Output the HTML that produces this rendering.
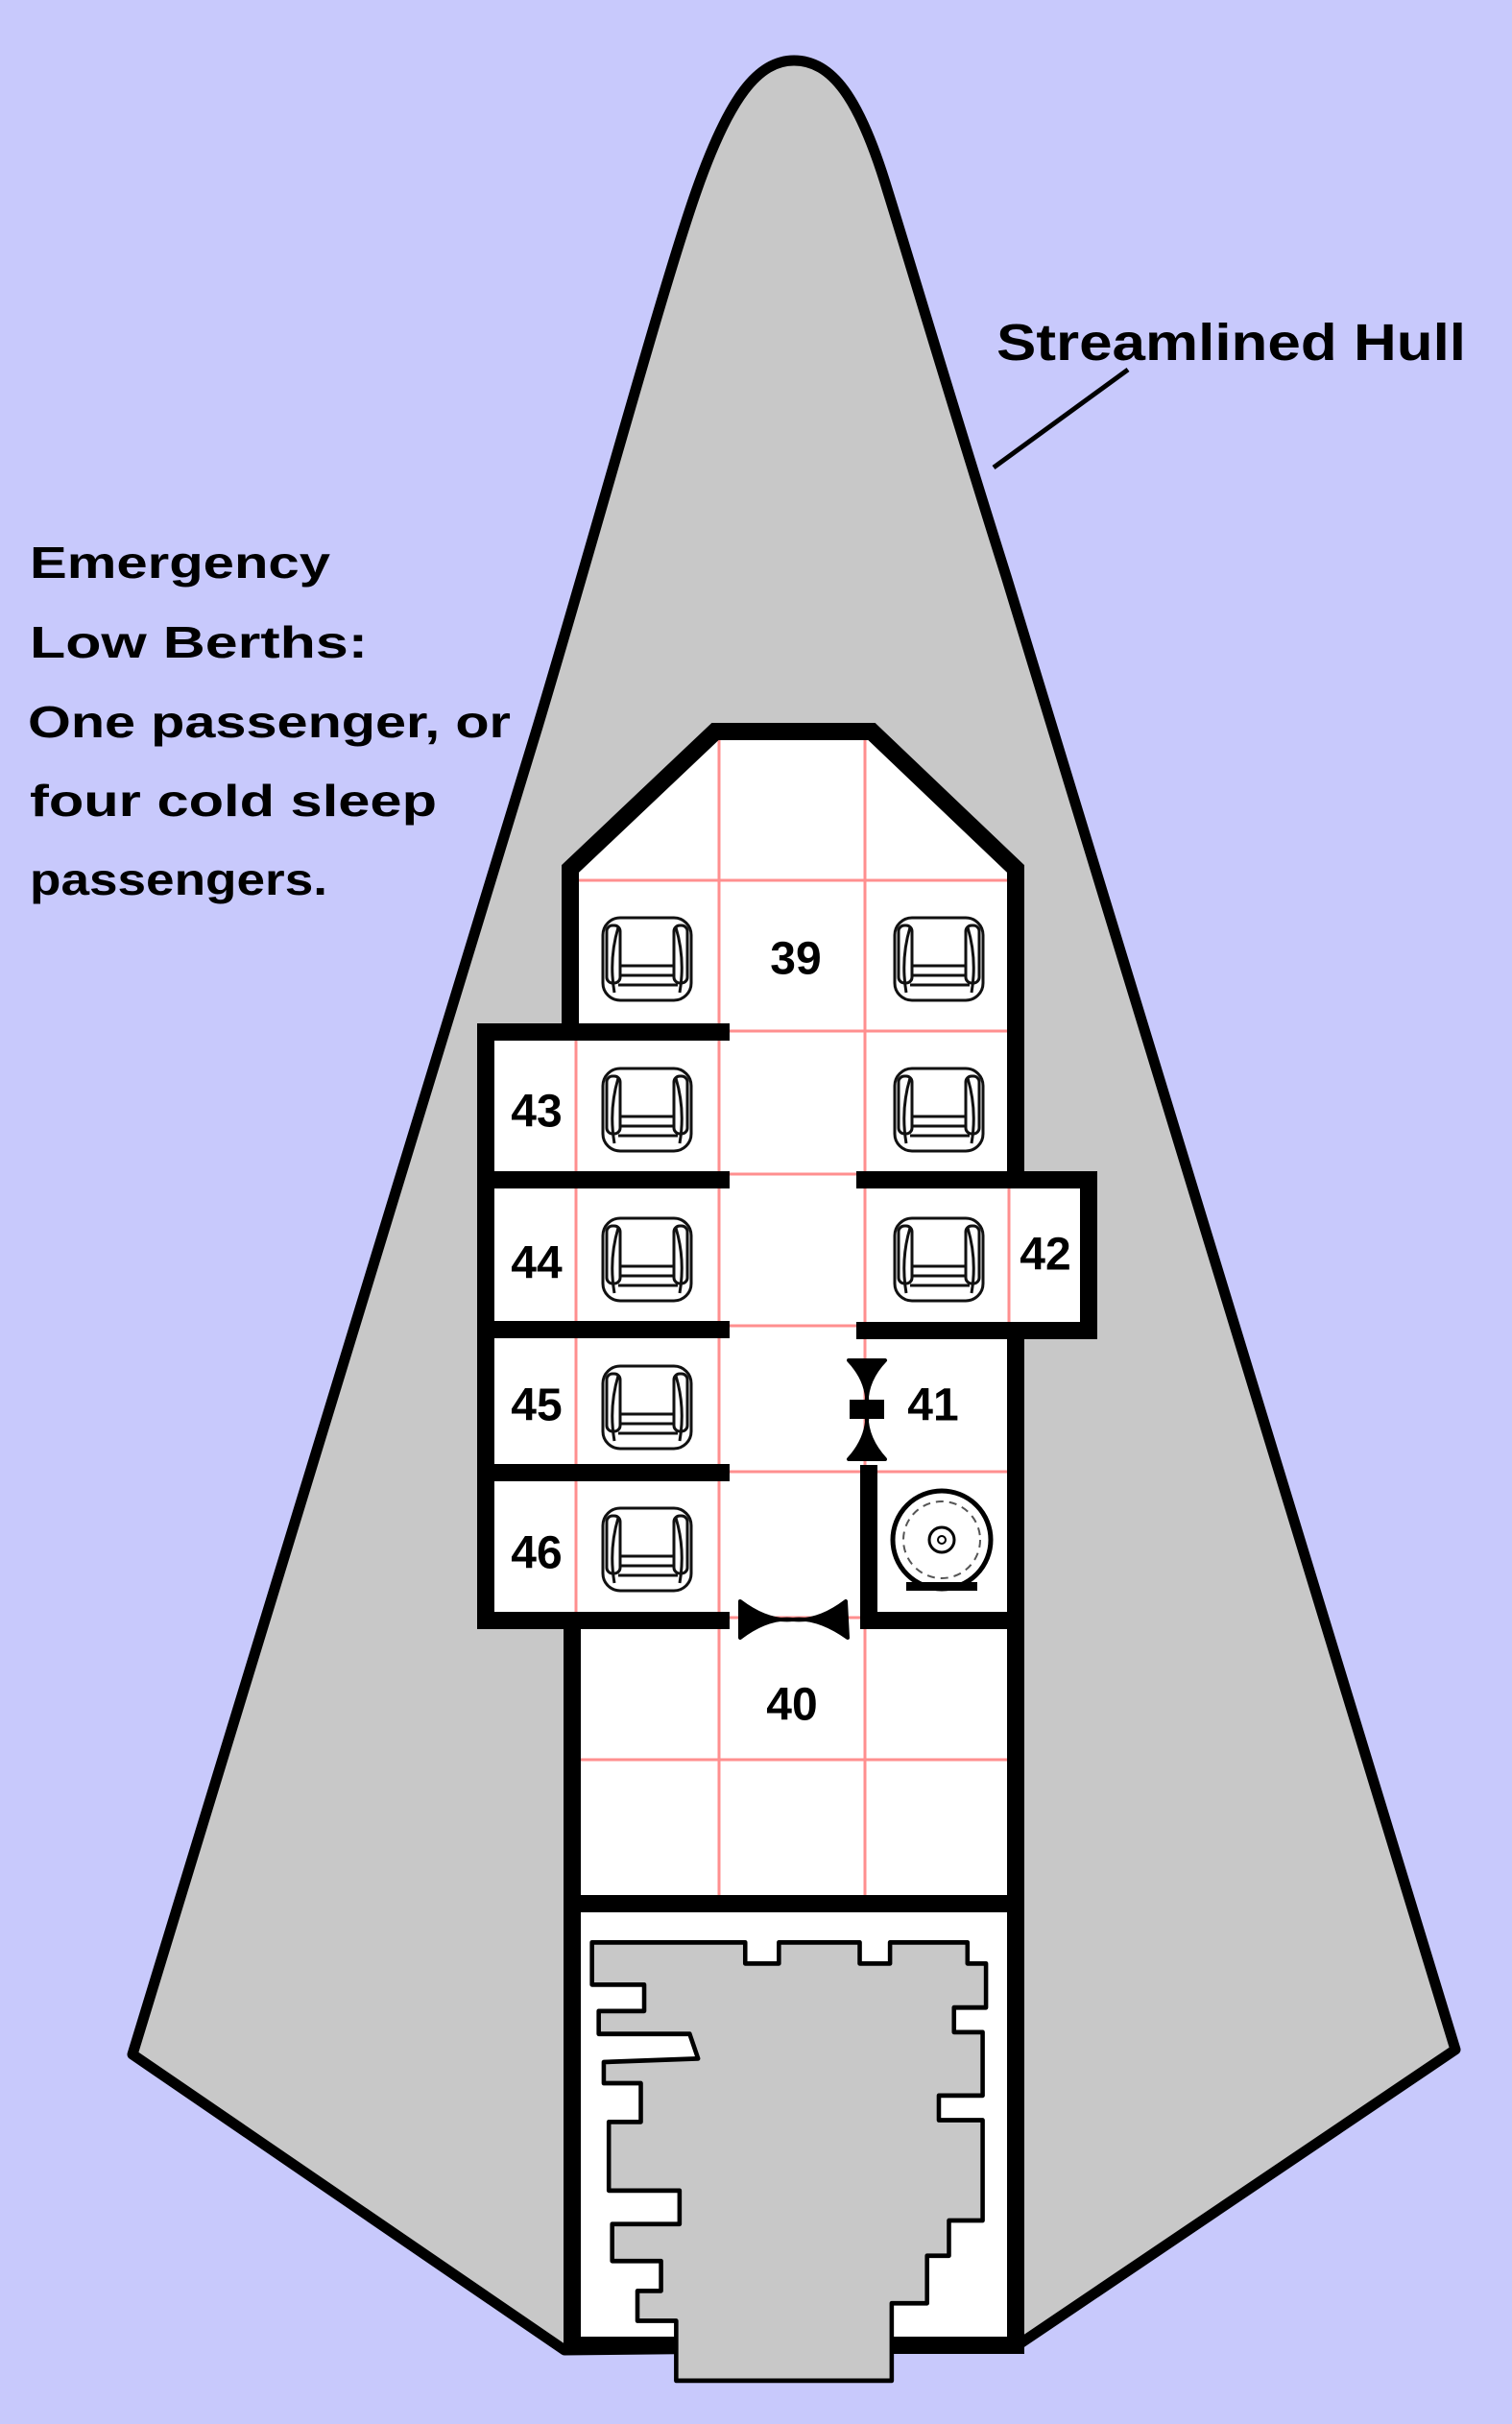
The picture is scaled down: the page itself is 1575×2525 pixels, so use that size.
<!DOCTYPE html>
<html><head><meta charset="utf-8"><style>
html,body{margin:0;padding:0;background:#c8c9fc;}
svg{display:block}
text{font-family:"Liberation Sans",sans-serif;fill:#000}
</style></head><body>
<svg width="1575" height="2525" viewBox="0 0 1575 2525" xmlns="http://www.w3.org/2000/svg">
<defs>
<g id="seat" fill="none" stroke="#111" stroke-width="3">
  <rect x="2" y="2" width="92" height="86" rx="18"/>
  <path d="M18 12 Q8 45 14 80"/>
  <path d="M78 12 Q88 45 82 80"/>
  <rect x="6" y="10" width="14" height="60" rx="6"/>
  <rect x="76" y="10" width="14" height="60" rx="6"/>
  <path d="M20 52 L76 52 M20 62 L76 62 M18 72 L80 72"/>
</g>
</defs>
<rect width="1575" height="2525" fill="#c8c9fc"/>
<!-- hull -->
<path d="M138,2140 L560,757 C625,540 690,300 725,200 C760,100 790,63 827,63 C866,63 895,100 925,200 C950,280 985,400 1048,600 L1516,2135 L1060,2443 L588,2448 Z" fill="#c8c8c8" stroke="#000" stroke-width="11" stroke-linejoin="round"/>
<line x1="1035" y1="487" x2="1175" y2="385" stroke="#000" stroke-width="5"/>
<text x="1038" y="375" font-size="54" font-weight="bold" textLength="489" lengthAdjust="spacingAndGlyphs">Streamlined Hull</text>
<g font-size="46" font-weight="bold">
<text x="31" y="602" textLength="313" lengthAdjust="spacingAndGlyphs">Emergency</text>
<text x="31" y="685" textLength="352" lengthAdjust="spacingAndGlyphs">Low Berths:</text>
<text x="29" y="768" textLength="503" lengthAdjust="spacingAndGlyphs">One passenger, or</text>
<text x="31" y="850" textLength="424" lengthAdjust="spacingAndGlyphs">four cold sleep</text>
<text x="31" y="932" textLength="310" lengthAdjust="spacingAndGlyphs">passengers.</text>
</g>
<!-- white interior -->
<path d="M745,762 L908,762 L1058,905 L1058,1229 L1134,1229 L1134,1386 L1058,1386 L1058,2443 L596,2443 L596,1688 L506,1688 L506,1075 L594,1075 L594,905 Z" fill="#fff"/>
<!-- red grid -->
<g stroke="#ff8f8f" stroke-width="3">
<line x1="749" y1="770" x2="749" y2="1975"/>
<line x1="901" y1="770" x2="901" y2="1975"/>
<line x1="600" y1="1075" x2="600" y2="1688"/>
<line x1="1051" y1="1229" x2="1051" y2="1386"/>
<line x1="594" y1="917" x2="1058" y2="917"/>
<line x1="594" y1="1074" x2="1058" y2="1074"/>
<line x1="594" y1="1223" x2="1058" y2="1223"/>
<line x1="594" y1="1381" x2="1058" y2="1381"/>
<line x1="594" y1="1533" x2="1058" y2="1533"/>
<line x1="594" y1="1685" x2="1058" y2="1685"/>
<line x1="594" y1="1833" x2="1058" y2="1833"/>
</g>
<!-- walls -->
<g stroke="#000" stroke-width="18" fill="none" stroke-linecap="square" stroke-linejoin="miter">
<path d="M594,1075 L594,905 L745,762 L908,762 L1058,905 L1058,1229"/>
<path d="M751,1075 L506,1075 L506,1688 L751,1688"/>
<line x1="506" y1="1229" x2="751" y2="1229"/>
<line x1="506" y1="1385" x2="751" y2="1385"/>
<line x1="506" y1="1534" x2="751" y2="1534"/>
<path d="M901,1229 L1134,1229 L1134,1386 L901,1386"/>
<path d="M1058,1386 L1058,2443 L596,2443 L596,1688"/>
<path d="M905,1535 L905,1688 L1058,1688"/>
<line x1="596" y1="1983" x2="1058" y2="1983"/>
</g>
<!-- seats -->
<use href="#seat" x="626" y="954"/>
<use href="#seat" x="930" y="954"/>
<use href="#seat" x="626" y="1111"/>
<use href="#seat" x="930" y="1111"/>
<use href="#seat" x="626" y="1267"/>
<use href="#seat" x="930" y="1267"/>
<use href="#seat" x="626" y="1421"/>
<use href="#seat" x="626" y="1569"/>
<!-- doors -->
<path d="M771,1668 Q800,1690 826,1687 Q852,1690 881,1668 L883,1706 Q852,1684 826,1687 Q800,1684 771,1706 Z" fill="#000" stroke="#000" stroke-width="4" stroke-linejoin="round"/>
<path d="M884,1417 Q906,1440 903,1468 Q906,1496 884,1520 L922,1520 Q900,1496 903,1468 Q900,1440 922,1417 Z" fill="#000" stroke="#000" stroke-width="4" stroke-linejoin="round"/>
<rect x="885" y="1458" width="36" height="20" fill="#000"/>
<!-- round fixture -->
<circle cx="981" cy="1604" r="51" fill="none" stroke="#000" stroke-width="5"/>
<circle cx="981" cy="1604" r="40" fill="none" stroke="#555" stroke-width="2" stroke-dasharray="8 6"/>
<circle cx="981" cy="1604" r="13" fill="none" stroke="#000" stroke-width="3"/>
<circle cx="981" cy="1604" r="4" fill="none" stroke="#000" stroke-width="2"/>
<rect x="944" y="1648" width="74" height="9" fill="#000"/>
<!-- engine -->
<g transform="translate(550,1950) scale(0.3508,0.3667)">
<polygon points="190,200 645,200 645,260 745,260 745,200 985,200 985,260 1075,260 1075,200 1305,200 1305,260 1360,260 1360,385 1265,385 1265,455 1350,455 1350,635 1220,635 1220,705 1350,705 1350,990 1250,990 1250,1090 1185,1090 1185,1225 1080,1225 1080,1445 440,1445 440,1275 325,1275 325,1190 395,1190 395,1105 250,1105 250,1000 450,1000 450,905 240,905 240,710 335,710 335,600 225,600 225,540 505,530 480,460 210,460 210,395 345,395 345,320 190,320" fill="#c8c8c8" stroke="#000" stroke-width="13" stroke-linejoin="round"/>
</g>
<!-- labels -->
<g font-size="48" font-weight="bold" text-anchor="middle" dominant-baseline="central">
<text x="829" y="999">39</text>
<text x="559" y="1158">43</text>
<text x="559" y="1316">44</text>
<text x="559" y="1464">45</text>
<text x="559" y="1618">46</text>
<text x="1089" y="1307">42</text>
<text x="972" y="1464">41</text>
<text x="825" y="1776">40</text>
</g>
</svg>
</body></html>
